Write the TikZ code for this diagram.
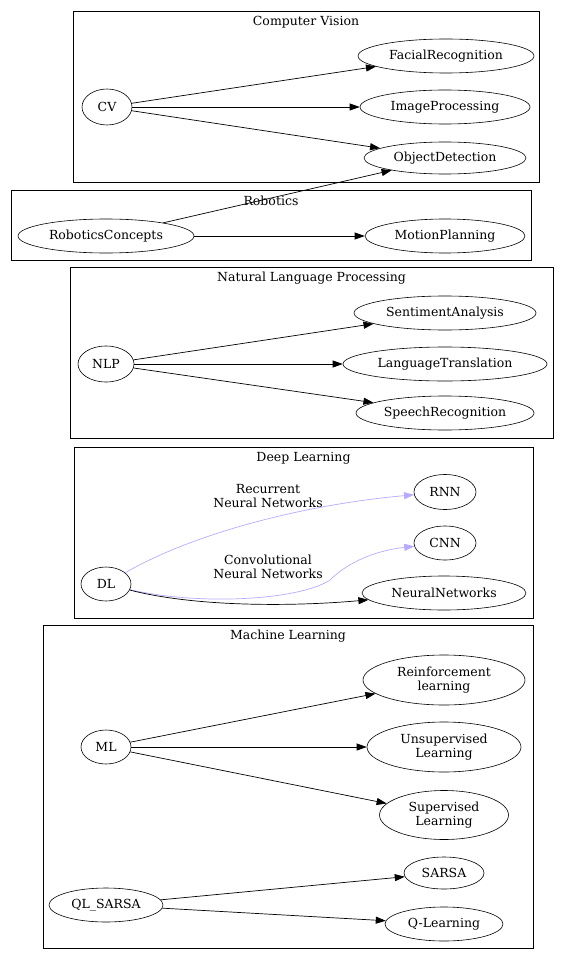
\documentclass[tikz,border=0pt]{standalone}
\usepackage{fontspec}
\setmainfont{DejaVu Serif}
\usetikzlibrary{arrows.meta,positioning,shapes.geometric}
\definecolor{lilac}{RGB}{182,172,255}

\begin{document}
\begin{tikzpicture}[
    x=1pt, y=-1pt,
    every node/.style={font=\fontsize{12.5}{14}\selectfont},
    cluster/.style={draw, line width=0.7pt, inner sep=0pt},
    title/.style={inner sep=0pt, yshift=-11.5pt},
    concept/.style={draw, ellipse, line width=0.6pt, inner sep=0pt, align=center},
    arrow/.style={-{Triangle[length=10pt, width=7pt]}, line width=0.7pt},
    soft/.style={arrow, draw=lilac}
  ]
    \useasboundingbox (0,0) rectangle (565,960);

    % clusters
    \node[cluster, minimum width=466pt, minimum height=171pt] (cvbox) at (306,96.5) {};
    \node[title] (cvtitle) at (cvbox.north) {Computer Vision};
    \node[cluster, minimum width=520pt, minimum height=70pt] (robobox) at (271,225) {};
    \node[title] (robotitle) at (robobox.north) {Robotics};
    \node[cluster, minimum width=483pt, minimum height=171pt] (nlpbox) at (311.5,352.5) {};
    \node[title] (nlptitle) at (nlpbox.north) {Natural Language Processing};
    \node[cluster, minimum width=459pt, minimum height=171pt] (dlbox) at (303.5,532.5) {};
    \node[title] (dltitle) at (dlbox.north) {Deep Learning};
    \node[cluster, minimum width=490pt, minimum height=323pt] (mlbox) at (288,786.5) {};
    \node[title] (mltitle) at (mlbox.north) {Machine Learning};

    % computer vision
    \node[concept, minimum width=50pt, minimum height=36pt] (cv) at (107,107) {CV};
    \node[concept, minimum width=176pt, minimum height=34pt] (facialrecognition) at (446,56) {FacialRecognition};
    \node[concept, minimum width=170pt, minimum height=34pt] (imageprocessing) at (445,107) {ImageProcessing};
    \node[concept, minimum width=162pt, minimum height=32pt] (objectdetection) at (445,158) {ObjectDetection};

    % robotics
    \node[concept, minimum width=176pt, minimum height=34pt] (roboticsconcepts) at (106,236) {RoboticsConcepts};
    \node[concept, minimum width=160pt, minimum height=34pt] (motionplanning) at (445,236) {MotionPlanning};

    % natural language processing
    \node[concept, minimum width=56pt, minimum height=36pt] (nlp) at (106,364) {NLP};
    \node[concept, minimum width=182pt, minimum height=34pt] (sentimentanalysis) at (445,313) {SentimentAnalysis};
    \node[concept, minimum width=204pt, minimum height=34pt] (languagetranslation) at (445,364) {LanguageTranslation};
    \node[concept, minimum width=178pt, minimum height=34pt] (speechrecognition) at (445,413) {SpeechRecognition};

    % deep learning
    \node[concept, minimum width=50pt, minimum height=34pt] (dl) at (106,584) {DL};
    \node[concept, minimum width=62pt, minimum height=35pt] (rnn) at (445,492) {RNN};
    \node[concept, minimum width=62pt, minimum height=34pt] (cnn) at (445,543) {CNN};
    \node[concept, minimum width=164pt, minimum height=34pt] (neuralnetworks) at (444,593) {NeuralNetworks};
    \node[align=center, inner sep=0pt] (rnnlabel) at (268,496) {Recurrent\\Neural Networks};
    \node[align=center, inner sep=0pt] (cnnlabel) at (268,567) {Convolutional\\Neural Networks};

    % machine learning
    \node[concept, minimum width=50pt, minimum height=34pt] (ml) at (106,747) {ML};
    \node[concept, minimum width=162pt, minimum height=50pt] (reinforcement) at (444,680) {Reinforcement\\learning};
    \node[concept, minimum width=154pt, minimum height=50pt] (unsupervised) at (444,747) {Unsupervised\\Learning};
    \node[concept, minimum width=129pt, minimum height=49pt] (supervised) at (444,815) {Supervised\\Learning};
    \node[concept, minimum width=80pt, minimum height=32pt] (sarsa) at (444,873) {SARSA};
    \node[concept, minimum width=114pt, minimum height=34pt] (qlsarsa) at (106,905) {QL\_SARSA};
    \node[concept, minimum width=118pt, minimum height=34pt] (qlearning) at (444,924) {Q-Learning};

    % edges
    \draw[arrow] (cv) -- (facialrecognition);
    \draw[arrow] (cv) -- (imageprocessing);
    \draw[arrow] (cv) -- (objectdetection);
    \draw[arrow] (roboticsconcepts) -- (objectdetection);
    \draw[arrow] (roboticsconcepts) -- (motionplanning);
    \draw[arrow] (nlp) -- (sentimentanalysis);
    \draw[arrow] (nlp) -- (languagetranslation);
    \draw[arrow] (nlp) -- (speechrecognition);
    \draw[soft] (dl) .. controls (190,535) and (300,505) .. (rnn);
    \draw[soft] (dl) .. controls (200,606) and (300,600) .. (330,580) .. controls (350,560) and (380,550) .. (cnn);
    \draw[arrow] (dl) .. controls (200,608) and (300,606) .. (neuralnetworks);
    \draw[arrow] (ml) -- (reinforcement);
    \draw[arrow] (ml) -- (unsupervised);
    \draw[arrow] (ml) -- (supervised);
    \draw[arrow] (qlsarsa) -- (sarsa);
    \draw[arrow] (qlsarsa) -- (qlearning);
  \end{tikzpicture}
\end{document}
